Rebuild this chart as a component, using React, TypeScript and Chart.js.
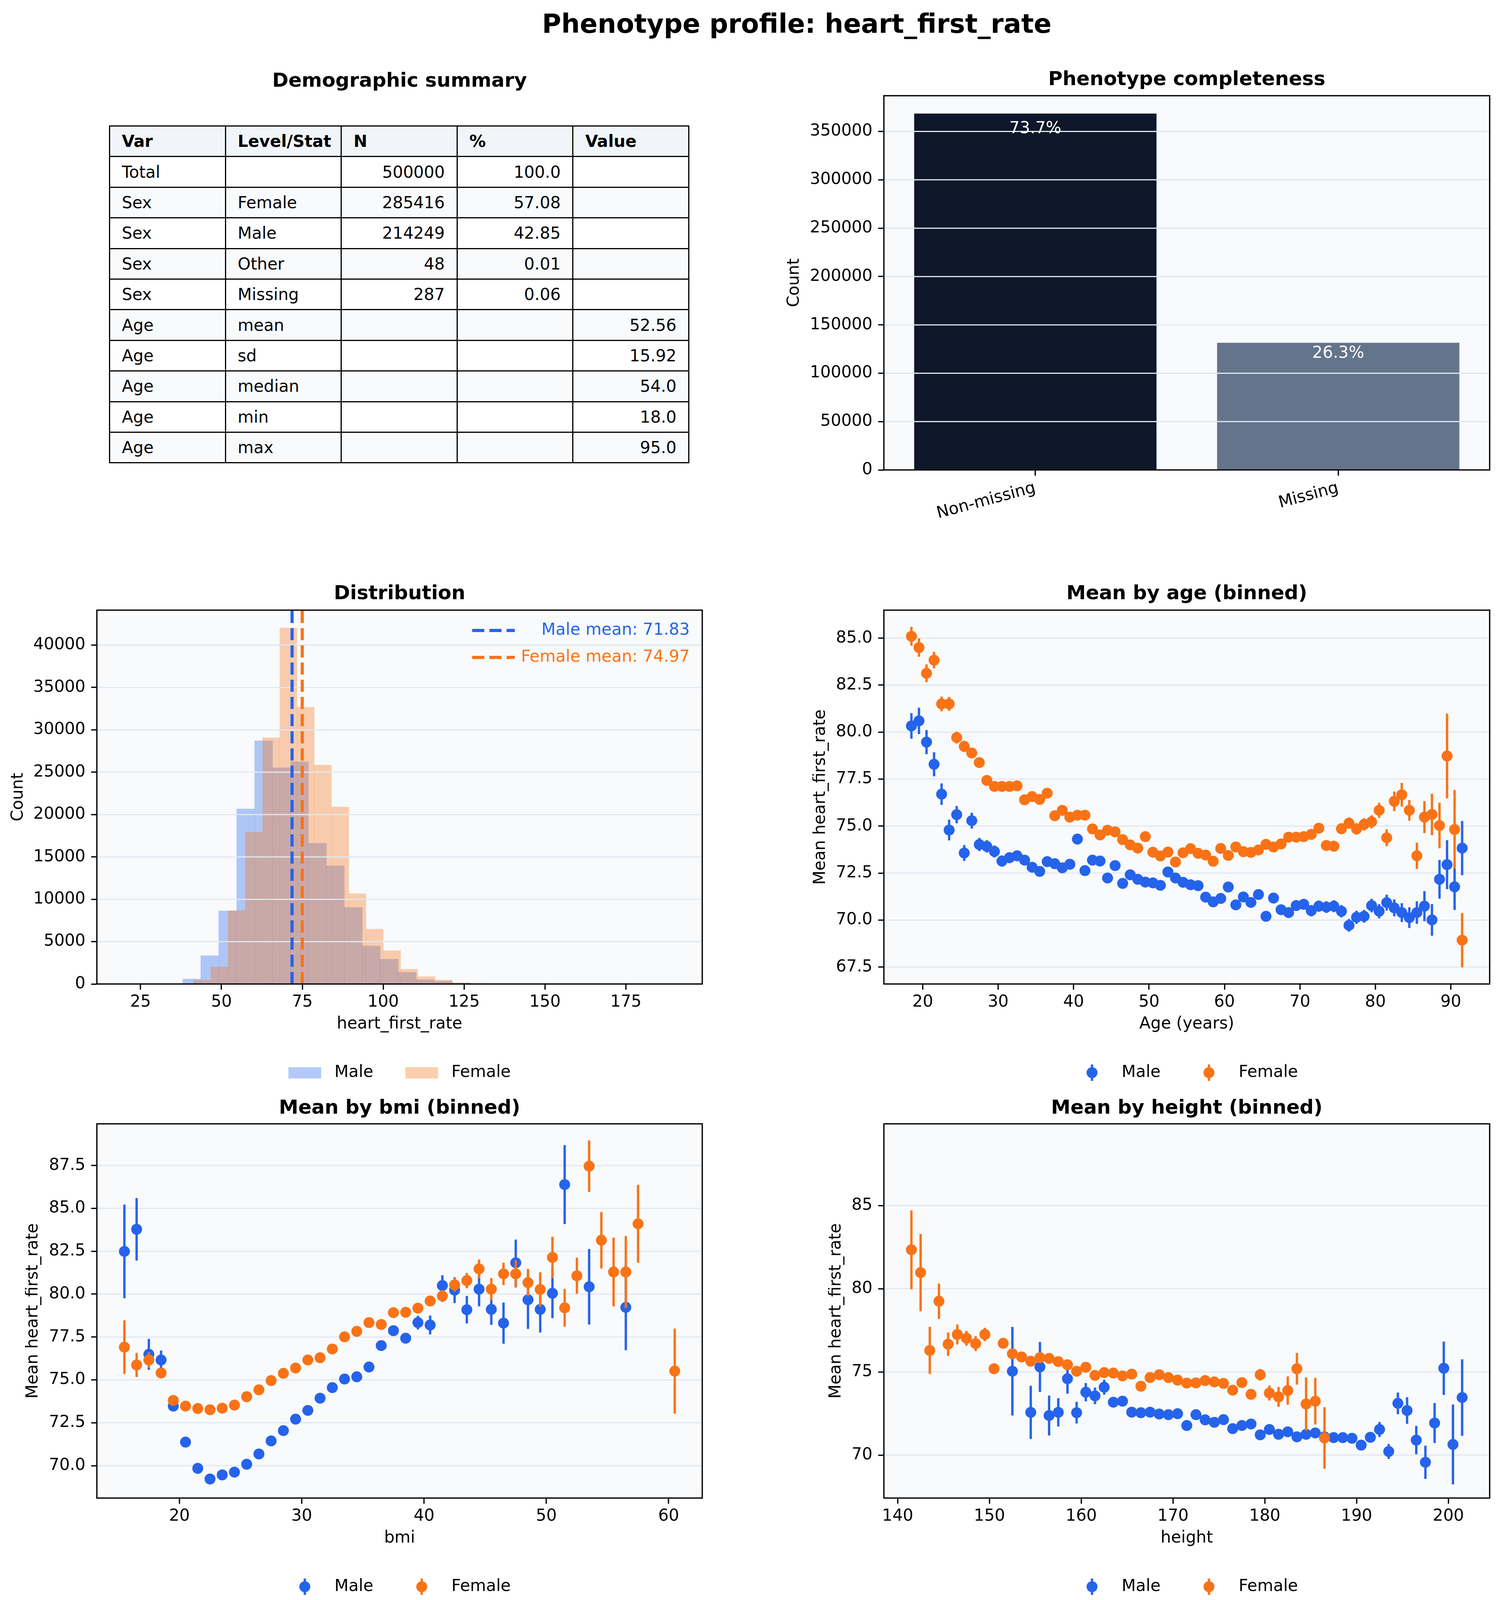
import { useEffect, useRef } from 'react'
import { Chart, registerables } from 'chart.js'

Chart.register(...registerables)
Chart.defaults.font.family = "'DejaVu Sans', sans-serif"
Chart.defaults.color = '#000'

// ---------- data ----------
const TABLE_HEADER = ['Var', 'Level/Stat', 'N', '%', 'Value']
const TABLE_ROWS = [
  ['Total', '', '500000', '100.0', ''],
  ['Sex', 'Female', '285416', '57.08', ''],
  ['Sex', 'Male', '214249', '42.85', ''],
  ['Sex', 'Other', '48', '0.01', ''],
  ['Sex', 'Missing', '287', '0.06', ''],
  ['Age', 'mean', '', '', '52.56'],
  ['Age', 'sd', '', '', '15.92'],
  ['Age', 'median', '', '', '54.0'],
  ['Age', 'min', '', '', '18.0'],
  ['Age', 'max', '', '', '95.0'],
]

const COMPLETENESS_LABELS = ['Non-missing', 'Missing']
const COMPLETENESS_COUNTS = [368500, 131500]
const COMPLETENESS_Y_TICKS = [0, 50000, 100000, 150000, 200000, 250000, 300000, 350000]

const MALE_BIN_CENTERS = [40.83, 46.38, 51.93, 57.48, 63.03, 68.58, 74.13, 79.68, 85.23, 90.78, 96.33, 101.88, 107.43, 112.98, 118.53, 124.08, 129.63]
const MALE_COUNTS = [600, 3340, 8630, 20680, 28710, 25530, 26240, 16620, 13960, 9030, 4490, 2940, 1390, 520, 320, 120, 40]
const FEMALE_BIN_CENTERS = [44.03, 49.36, 54.69, 60.03, 65.36, 70.69, 76.03, 81.36, 86.7, 92.03, 97.36, 102.7, 108.03, 113.37, 118.7, 124.04, 129.37]
const FEMALE_COUNTS = [440, 2030, 8670, 17930, 29070, 42030, 32680, 25850, 20910, 10660, 6480, 3940, 1750, 870, 480, 160, 50]
const MALE_MEAN = 71.83
const FEMALE_MEAN = 74.97
const HIST_X_TICKS = [25, 50, 75, 100, 125, 150, 175]
const HIST_Y_TICKS = [0, 5000, 10000, 15000, 20000, 25000, 30000, 35000, 40000]

const AGE_BINS = [18.5, 19.5, 20.5, 21.5, 22.5, 23.5, 24.5, 25.5, 26.5, 27.5, 28.5, 29.5, 30.5, 31.5, 32.5, 33.5, 34.5, 35.5, 36.5, 37.5,
  38.5, 39.5, 40.5, 41.5, 42.5, 43.5, 44.5, 45.5, 46.5, 47.5, 48.5, 49.5, 50.5, 51.5, 52.5, 53.5, 54.5, 55.5, 56.5, 57.5,
  58.5, 59.5, 60.5, 61.5, 62.5, 63.5, 64.5, 65.5, 66.5, 67.5, 68.5, 69.5, 70.5, 71.5, 72.5, 73.5, 74.5, 75.5, 76.5, 77.5,
  78.5, 79.5, 80.5, 81.5, 82.5, 83.5, 84.5, 85.5, 86.5, 87.5, 88.5, 89.5, 90.5, 91.5]
const AGE_MALE = [80.33, 80.6, 79.47, 78.29, 76.7, 74.79, 75.61, 73.57, 75.29, 74.02,
  73.92, 73.65, 73.14, 73.32, 73.42, 73.19, 72.81, 72.59, 73.11, 73.0,
  72.78, 72.97, 74.31, 72.63, 73.19, 73.14, 72.24, 72.9, 71.95, 72.41,
  72.17, 72.02, 71.98, 71.85, 72.56, 72.24, 72.01, 71.88, 71.83, 71.22,
  70.97, 71.15, 71.76, 70.81, 71.23, 70.94, 71.36, 70.2, 71.17, 70.55,
  70.4, 70.77, 70.84, 70.5, 70.74, 70.69, 70.74, 70.47, 69.72, 70.15,
  70.2, 70.77, 70.47, 70.93, 70.65, 70.4, 70.13, 70.4, 70.74, 70.01,
  72.17, 72.95, 71.77, 73.83]
const AGE_MALE_ERR = [0.68, 0.7, 0.64, 0.64, 0.57, 0.55, 0.46, 0.42, 0.42, 0.35,
  0.33, 0.32, 0.3, 0.29, 0.28, 0.27, 0.27, 0.26, 0.26, 0.26,
  0.25, 0.25, 0.25, 0.25, 0.25, 0.25, 0.25, 0.25, 0.25, 0.25,
  0.25, 0.25, 0.25, 0.25, 0.25, 0.25, 0.25, 0.25, 0.25, 0.25,
  0.25, 0.25, 0.25, 0.26, 0.26, 0.26, 0.26, 0.27, 0.27, 0.27,
  0.28, 0.28, 0.29, 0.3, 0.3, 0.31, 0.32, 0.33, 0.34, 0.35,
  0.34, 0.36, 0.38, 0.42, 0.45, 0.5, 0.55, 0.6, 0.8, 0.84,
  1.03, 1.3, 1.23, 1.44]
const AGE_FEMALE = [85.1, 84.5, 83.13, 83.83, 81.5, 81.5, 79.71, 79.24, 78.89, 78.38,
  77.43, 77.11, 77.11, 77.11, 77.14, 76.4, 76.57, 76.42, 76.75, 75.55,
  75.84, 75.48, 75.58, 75.58, 74.85, 74.53, 74.78, 74.69, 74.28, 74.0,
  73.83, 74.44, 73.61, 73.41, 73.62, 73.09, 73.58, 73.8, 73.55, 73.46,
  73.13, 73.81, 73.44, 73.89, 73.64, 73.6, 73.73, 74.03, 73.89, 74.05,
  74.41, 74.41, 74.44, 74.56, 74.89, 73.97, 73.93, 74.86, 75.16, 74.85,
  75.09, 75.23, 75.84, 74.38, 76.32, 76.67, 75.84, 73.42, 75.48, 75.62,
  75.03, 78.73, 74.82, 68.93]
const AGE_FEMALE_ERR = [0.5, 0.49, 0.47, 0.44, 0.39, 0.37, 0.32, 0.3, 0.28, 0.27,
  0.26, 0.25, 0.24, 0.24, 0.23, 0.23, 0.22, 0.22, 0.22, 0.22,
  0.21, 0.21, 0.21, 0.21, 0.21, 0.21, 0.21, 0.21, 0.21, 0.21,
  0.21, 0.21, 0.21, 0.21, 0.21, 0.21, 0.21, 0.21, 0.21, 0.21,
  0.21, 0.21, 0.21, 0.21, 0.21, 0.21, 0.22, 0.22, 0.22, 0.23,
  0.23, 0.24, 0.24, 0.25, 0.26, 0.27, 0.28, 0.29, 0.3, 0.31,
  0.33, 0.35, 0.4, 0.45, 0.52, 0.63, 0.55, 0.7, 0.85, 1.1,
  1.21, 2.25, 2.1, 1.44]
const AGE_X_TICKS = [20, 30, 40, 50, 60, 70, 80, 90]
const AGE_Y_TICKS = [67.5, 70, 72.5, 75, 77.5, 80, 82.5, 85]

const BMI_BINS = [15.5, 16.5, 17.5, 18.5, 19.5, 20.5, 21.5, 22.5, 23.5, 24.5, 25.5, 26.5, 27.5, 28.5, 29.5, 30.5,
  31.5, 32.5, 33.5, 34.5, 35.5, 36.5, 37.5, 38.5, 39.5, 40.5, 41.5, 42.5, 43.5, 44.5, 45.5, 46.5,
  47.5, 48.5, 49.5, 50.5, 51.5, 52.5, 53.5, 54.5, 55.5, 56.5, 57.5, 58.5, 59.5, 60.5]
const BMI_MALE = [82.49, 83.78, 76.49, 76.16, 73.47, 71.37, 69.84, 69.22, 69.46, 69.62, 70.08, 70.68, 71.44, 72.04, 72.71, 73.22,
  73.93, 74.55, 75.05, 75.18, 75.75, 77.0, 77.87, 77.43, 78.34, 78.2, 80.5, 80.23, 79.09, 80.29, 79.11, 78.31,
  81.83, 79.67, 79.11, 80.05, 86.39, null, 80.43, null, null, 79.23, null, null, null, null]
const BMI_MALE_ERR = [2.73, 1.82, 0.9, 0.55, 0.25, 0.2, 0.15, 0.12, 0.12, 0.12, 0.12, 0.12, 0.13, 0.14, 0.15, 0.16,
  0.18, 0.2, 0.22, 0.24, 0.26, 0.28, 0.3, 0.3, 0.4, 0.55, 0.6, 0.75, 0.8, 1.0, 0.9, 1.2,
  1.35, 1.7, 1.35, 1.45, 2.3, null, 2.2, null, null, 2.5, null, null, null, null]
const BMI_FEMALE = [76.91, 75.87, 76.16, 75.4, 73.8, 73.47, 73.33, 73.26, 73.35, 73.53, 74.02, 74.42, 74.96, 75.38, 75.69, 76.16,
  76.29, 76.8, 77.51, 77.83, 78.34, 78.23, 78.92, 78.94, 79.18, 79.6, 79.89, 80.54, 80.79, 81.47, 80.29, 81.18,
  81.18, 80.67, 80.27, 82.14, 79.2, 81.07, 87.46, 83.14, 81.29, 81.29, 84.1, null, null, 75.51]
const BMI_FEMALE_ERR = [1.56, 0.7, 0.45, 0.3, 0.2, 0.15, 0.12, 0.1, 0.1, 0.1, 0.1, 0.1, 0.1, 0.1, 0.12, 0.13,
  0.15, 0.16, 0.18, 0.2, 0.2, 0.22, 0.24, 0.25, 0.25, 0.3, 0.35, 0.4, 0.45, 0.55, 0.65, 0.65,
  0.8, 0.8, 1.0, 1.2, 1.1, 1.05, 1.5, 1.65, 2.0, 2.1, 2.27, null, null, 2.48]
const BMI_X_TICKS = [20, 30, 40, 50, 60]
const BMI_Y_TICKS = [70, 72.5, 75, 77.5, 80, 82.5, 85, 87.5]

const HEIGHT_BINS = [141.5, 142.5, 143.5, 144.5, 145.5, 146.5, 147.5, 148.5, 149.5, 150.5, 151.5, 152.5, 153.5, 154.5, 155.5, 156.5,
  157.5, 158.5, 159.5, 160.5, 161.5, 162.5, 163.5, 164.5, 165.5, 166.5, 167.5, 168.5, 169.5, 170.5, 171.5, 172.5,
  173.5, 174.5, 175.5, 176.5, 177.5, 178.5, 179.5, 180.5, 181.5, 182.5, 183.5, 184.5, 185.5, 186.5, 187.5, 188.5,
  189.5, 190.5, 191.5, 192.5, 193.5, 194.5, 195.5, 196.5, 197.5, 198.5, 199.5, 200.5, 201.5]
const HEIGHT_MALE = [null, null, null, null, null, null, null, null, null, null, null, 75.04, null, 72.57, 75.3, 72.38,
  72.57, 74.59, 72.55, 73.78, 73.56, 74.08, 73.18, 73.24, 72.58, 72.55, 72.58, 72.47, 72.43, 72.49, 71.78, 72.43,
  72.12, 71.97, 72.13, 71.59, 71.78, 71.87, 71.22, 71.54, 71.25, 71.4, 71.1, 71.25, 71.33, 71.1, 71.05, 71.05,
  71.01, 70.6, 71.07, 71.54, 70.22, 73.11, 72.68, 70.9, 69.57, 71.93, 75.22, 70.64, 73.46]
const HEIGHT_MALE_ERR = [null, null, null, null, null, null, null, null, null, null, null, 2.66, null, 1.6, 1.5, 1.2,
  0.85, 0.9, 0.65, 0.55, 0.5, 0.45, 0.3, 0.25, 0.2, 0.18, 0.16, 0.14, 0.13, 0.12, 0.12, 0.12,
  0.11, 0.11, 0.11, 0.11, 0.11, 0.11, 0.11, 0.11, 0.12, 0.12, 0.12, 0.13, 0.14, 0.15, 0.16, 0.18,
  0.2, 0.25, 0.3, 0.45, 0.45, 0.65, 0.8, 0.85, 1.0, 1.2, 1.6, 2.4, 2.3]
const HEIGHT_FEMALE = [82.34, 80.97, 76.29, 79.25, 76.67, 77.25, 77.02, 76.7, 77.25, 75.19, 76.72, 76.09, 75.9, 75.64, 75.86, 75.81,
  75.62, 75.43, 75.04, 75.28, 74.79, 74.96, 74.93, 74.76, 74.87, 74.14, 74.66, 74.83, 74.66, 74.51, 74.33, 74.34,
  74.48, 74.4, 74.31, 73.9, 74.36, 73.65, 74.83, 73.73, 73.5, 73.88, 75.19, 73.07, 73.24, 71.03, null, null,
  null, null, null, null, null, null, null, null, null, null, null, null, null]
const HEIGHT_FEMALE_ERR = [2.37, 2.32, 1.42, 1.06, 0.7, 0.6, 0.45, 0.45, 0.4, 0.3, 0.3, 0.25, 0.22, 0.2, 0.18, 0.16,
  0.15, 0.14, 0.13, 0.12, 0.12, 0.12, 0.12, 0.12, 0.12, 0.13, 0.13, 0.14, 0.14, 0.15, 0.16, 0.17,
  0.18, 0.2, 0.22, 0.24, 0.26, 0.3, 0.35, 0.45, 0.6, 0.85, 0.95, 1.6, 1.4, 1.85, null, null,
  null, null, null, null, null, null, null, null, null, null, null, null, null]
const HEIGHT_X_TICKS = [140, 150, 160, 170, 180, 190, 200]
const HEIGHT_Y_TICKS = [70, 75, 80, 85]

// ---------- look ----------
const MALE = '#2563eb'
const FEMALE = '#f97316'
const MALE_FILL = 'rgba(37,99,235,0.35)'
const FEMALE_FILL = 'rgba(249,115,22,0.35)'
const PANEL_BG = '#f8fafc'
const GRID = '#e2e8f0'
const FONT = "'DejaVu Sans', sans-serif"
const LBL = 42            // 10pt at 300 dpi
const TTL = 50            // 12pt bold
const TTL_LH = 60
const TTL_PAD = 10
const TICK_LEN = 14.6
const LINE_W = 3.3
const MARKER_R = 14
const LEGEND_PAD = 82
const HANDLE_W = 97       // handle slot so the text sits where matplotlib puts it
const RIGHT_PAD = 40
const BOTTOM_PAD = 10

interface Geo { L: number; T: number; R: number; B: number; titleY: number; yTitleX: number; xh: number; legend: boolean }

const GEO_BAR: Geo = { L: 2263, T: 245, R: 3814, B: 1203, titleY: 205, yTitleX: 2034, xh: 200, legend: false }
const GEO_HIST: Geo = { L: 248, T: 1562, R: 1798, B: 2519, titleY: 1521, yTitleX: 47, xh: 124, legend: true }
const GEO_AGE: Geo = { L: 2263, T: 1562, R: 3814, B: 2519, titleY: 1521, yTitleX: 2101, xh: 124, legend: true }
const GEO_BMI: Geo = { L: 248, T: 2877, R: 1798, B: 3835, titleY: 2838, yTitleX: 85, xh: 124, legend: true }
const GEO_HEIGHT: Geo = { L: 2263, T: 2877, R: 3814, B: 3835, titleY: 2838, yTitleX: 2141, xh: 124, legend: true }

function frameOf(g: Geo) {
  const left = g.yTitleX - LBL / 2
  const top = g.titleY - TTL_LH / 2 - TTL_PAD
  const legendH = g.legend ? LBL + LEGEND_PAD + 10 : 0
  return {
    left, top,
    width: g.R + RIGHT_PAD - left,
    height: g.B - top + g.xh + legendH + BOTTOM_PAD,
    yWidth: g.L - left,
    titlePadBottom: g.T - (g.titleY + TTL_LH / 2),
  }
}

// ---------- drawing helpers ----------
function drawGrid(chart: any) {
  const { ctx, chartArea: a, scales: { y } } = chart
  ctx.save()
  ctx.strokeStyle = GRID
  ctx.lineWidth = 3
  y.ticks.forEach((t: any) => {
    const py = y.getPixelForValue(t.value)
    ctx.beginPath(); ctx.moveTo(a.left, py); ctx.lineTo(a.right, py); ctx.stroke()
  })
  ctx.restore()
}

function drawErrors(chart: any, ds: any) {
  const { ctx, scales: { x, y } } = chart
  ctx.save()
  ctx.strokeStyle = ds.borderColor
  ctx.lineWidth = 6
  ds.data.forEach((p: any, i: number) => {
    const e = ds.errors[i]
    if (!e) return
    const px = x.getPixelForValue(p.x)
    ctx.beginPath()
    ctx.moveTo(px, y.getPixelForValue(p.y - e))
    ctx.lineTo(px, y.getPixelForValue(p.y + e))
    ctx.stroke()
  })
  ctx.restore()
}

function drawBarLabels(chart: any) {
  const { ctx, scales: { y } } = chart
  const ds = chart.data.datasets[0]
  const meta = chart.getDatasetMeta(0)
  const total = ds.data.reduce((s: number, v: number) => s + v, 0)
  ctx.save()
  ctx.fillStyle = '#fff'
  ctx.font = `${LBL}px ${FONT}`
  ctx.textAlign = 'center'
  ctx.textBaseline = 'middle'
  meta.data.forEach((bar: any, i: number) => {
    const v = ds.data[i]
    ctx.fillText(`${((v / total) * 100).toFixed(1)}%`, bar.x, y.getPixelForValue(v * 0.98) + 21)
  })
  ctx.restore()
}

function drawMeans(chart: any, means: any[]) {
  const { ctx, chartArea: a, scales: { x } } = chart
  ctx.save()
  ctx.lineWidth = 8
  ctx.setLineDash([31, 13])
  means.forEach((m) => {
    const px = x.getPixelForValue(m.value)
    ctx.strokeStyle = m.color
    ctx.beginPath(); ctx.moveTo(px, a.bottom); ctx.lineTo(px, a.top); ctx.stroke()
  })
  ctx.font = `${LBL}px ${FONT}`
  ctx.textAlign = 'right'
  ctx.textBaseline = 'middle'
  means.forEach((m, i) => {
    const py = a.top + 52 + i * 69
    ctx.strokeStyle = m.color
    ctx.beginPath(); ctx.moveTo(a.right - 589, py); ctx.lineTo(a.right - 480, py); ctx.stroke()
    ctx.fillStyle = m.color
    ctx.fillText(`${m.label} mean: ${m.value.toFixed(2)}`, a.right - 32, py)
  })
  ctx.restore()
}

const decor = {
  id: 'decor',
  beforeDraw(chart: any) {
    const { ctx, chartArea: a } = chart
    ctx.save()
    ctx.fillStyle = PANEL_BG
    ctx.fillRect(a.left, a.top, a.right - a.left, a.bottom - a.top)
    ctx.restore()
  },
  beforeDatasetsDraw(chart: any, _args: any, opts: any) {
    if (!opts.gridOnTop) drawGrid(chart)
  },
  beforeDatasetDraw(chart: any, args: any) {
    const ds: any = chart.data.datasets[args.index]
    if (ds.errors) drawErrors(chart, ds)
  },
  afterDatasetsDraw(chart: any, _args: any, opts: any) {
    if (opts.gridOnTop) drawGrid(chart)
    if (opts.barLabels) drawBarLabels(chart)
    if (opts.means) drawMeans(chart, opts.means)
  },
  afterDraw(chart: any) {
    const { ctx, chartArea: a } = chart
    ctx.save()
    ctx.strokeStyle = '#000'
    ctx.lineWidth = LINE_W
    ctx.strokeRect(a.left, a.top, a.right - a.left, a.bottom - a.top)
    ctx.restore()
  },
}

// ---------- legend handles (drawn left of the slot centre, like matplotlib) ----------
function patchHandle(fill: string) {
  const c = document.createElement('canvas')
  c.width = 100; c.height = 29
  const g = c.getContext('2d')!
  g.fillStyle = fill
  g.fillRect(1.5, 0, 84, 29)
  return c
}

function errHandle(color: string) {
  const c = document.createElement('canvas')
  c.width = 100; c.height = 44
  const g = c.getContext('2d')!
  g.strokeStyle = color; g.lineWidth = 6
  g.beginPath(); g.moveTo(43.5, 1); g.lineTo(43.5, 43); g.stroke()
  g.fillStyle = color
  g.beginPath(); g.arc(43.5, 22, MARKER_R, 0, Math.PI * 2); g.fill()
  return c
}

function legendOpt(handles: HTMLCanvasElement[]) {
  return {
    display: true, position: 'bottom', fullSize: false,
    labels: {
      font: { size: LBL }, color: '#000', padding: LEGEND_PAD, usePointStyle: true, pointStyleWidth: HANDLE_W,
      sort: (a: any, b: any) => a.datasetIndex - b.datasetIndex,
      generateLabels: (chart: any) =>
        Chart.defaults.plugins.legend.labels.generateLabels(chart).map((l: any) => ({ ...l, pointStyle: handles[l.datasetIndex] })),
    },
  }
}

// ---------- option builders ----------
const fixedTicks = (values: number[]) => (s: any) => { s.ticks = values.map((value) => ({ value })) }

function yAxis(min: number, max: number, ticks: number[], fmt: (v: number) => string, title: string, width: number) {
  return {
    min, max,
    afterBuildTicks: fixedTicks(ticks),
    ticks: { autoSkip: false, font: { size: LBL }, color: '#000', padding: 14.6, callback: (v: any) => fmt(Number(v)) },
    grid: { display: true, drawOnChartArea: false, drawTicks: true, tickLength: TICK_LEN, tickWidth: LINE_W, tickColor: '#000' },
    border: { display: false },
    title: { display: true, text: title, color: '#000', font: { size: LBL, lineHeight: 1 }, padding: 0 },
    afterFit: (s: any) => { s.width = width },
  }
}

function xLinear(min: number, max: number, ticks: number[], title: string, height: number) {
  return {
    type: 'linear', position: 'bottom', min, max, offset: false,
    afterBuildTicks: fixedTicks(ticks),
    ticks: { autoSkip: false, maxRotation: 0, font: { size: LBL }, color: '#000', padding: 7, callback: (v: any) => String(v) },
    grid: { display: true, drawOnChartArea: false, drawTicks: true, offset: false, tickLength: TICK_LEN, tickWidth: LINE_W, tickColor: '#000' },
    border: { display: false },
    title: { display: true, text: title, color: '#000', font: { size: LBL, lineHeight: 1 }, padding: 0 },
    afterFit: (s: any) => { s.height = height },
  }
}

function titleOpt(text: string, f: any) {
  return { display: true, text, color: '#000', fullSize: false, font: { size: TTL, weight: 'bold', lineHeight: 1.2 }, padding: { top: TTL_PAD, bottom: f.titlePadBottom } }
}

function baseOptions(f: any, title: string, legend: any, decorOpts: any, scales: any) {
  return {
    responsive: false,
    animation: false,
    layout: { padding: { left: 0, top: 0, right: RIGHT_PAD, bottom: BOTTOM_PAD } },
    plugins: { title: titleOpt(title, f), legend, tooltip: { enabled: false }, decor: decorOpts },
    scales,
  }
}

function series(xs: number[], ys: (number | null)[], es: (number | null)[]) {
  const data: { x: number; y: number }[] = []
  const errors: number[] = []
  xs.forEach((x, i) => {
    const y = ys[i]
    if (y == null) return
    data.push({ x, y })
    errors.push(es[i] ?? 0)
  })
  return { data, errors }
}

function scatterConfig(f: any, g: Geo, title: string, xs: number[], male: any, female: any, ax: any) {
  const m = series(xs, male[0], male[1])
  const w = series(xs, female[0], female[1])
  const point = { pointRadius: MARKER_R, pointHoverRadius: MARKER_R, pointBorderWidth: 0 }
  return {
    type: 'scatter',
    plugins: [decor],
    data: {
      datasets: [
        { label: 'Male', data: m.data, errors: m.errors, backgroundColor: MALE, borderColor: MALE, ...point, order: 1 },
        { label: 'Female', data: w.data, errors: w.errors, backgroundColor: FEMALE, borderColor: FEMALE, ...point, order: 0 },
      ],
    },
    options: baseOptions(f, title, legendOpt([errHandle(MALE), errHandle(FEMALE)]), { gridOnTop: false }, {
      x: xLinear(ax.xMin, ax.xMax, ax.xTicks, ax.xTitle, g.xh),
      y: yAxis(ax.yMin, ax.yMax, ax.yTicks, ax.yFmt, 'Mean heart_first_rate', f.yWidth),
    }),
  }
}

// ---------- components ----------
function ChartPanel({ geo, build }: { geo: Geo; build: (f: any) => any }) {
  const canvasRef = useRef<HTMLCanvasElement>(null)
  const f = frameOf(geo)
  useEffect(() => {
    if (!canvasRef.current) return
    const chart = new Chart(canvasRef.current, build(f))
    return () => { chart.destroy() }
  }, [])
  return (
    <canvas
      ref={canvasRef}
      width={f.width}
      height={f.height}
      style={{ position: 'absolute', left: f.left, top: f.top, width: f.width, height: f.height }}
    />
  )
}

const TABLE_BOX = { left: 279, top: 321, width: 1486, rowH: 78.4 }

function DemoTable() {
  const cell = (align: 'left' | 'right'): any => ({
    border: '3px solid #000', padding: '0 30px', textAlign: align, whiteSpace: 'nowrap', overflow: 'hidden', verticalAlign: 'middle',
  })
  return (
    <table style={{
      position: 'absolute', left: TABLE_BOX.left, top: TABLE_BOX.top, width: TABLE_BOX.width,
      borderCollapse: 'collapse', tableLayout: 'fixed', fontSize: LBL, fontFamily: FONT, color: '#000',
    }}>
      <tbody>
        <tr style={{ height: TABLE_BOX.rowH, background: '#f1f5f9', fontWeight: 'bold' }}>
          {TABLE_HEADER.map((h) => <td key={h} style={cell('left')}>{h}</td>)}
        </tr>
        {TABLE_ROWS.map((r, i) => (
          <tr key={i} style={{ height: TABLE_BOX.rowH, background: i % 2 ? '#f8fafc' : '#ffffff' }}>
            {r.map((v, j) => <td key={j} style={cell(j >= 2 ? 'right' : 'left')}>{v}</td>)}
          </tr>
        ))}
      </tbody>
    </table>
  )
}

const fmt1 = (v: number) => v.toFixed(1)
const fmt0 = (v: number) => String(Math.round(v))

export default function App() {
  useEffect(() => { document.body.style.margin = '0' }, [])

  return (
    <div style={{ position: 'relative', width: 3843, height: 4295, background: '#fff', fontFamily: FONT, overflow: 'hidden' }}>
      <div style={{ position: 'absolute', left: 1040, width: 2000, top: 21, height: 80, lineHeight: '80px', textAlign: 'center', fontSize: 67, fontWeight: 'bold' }}>
        Phenotype profile: heart_first_rate
      </div>
      <div style={{ position: 'absolute', left: 423, width: 1200, top: 165, height: 80, lineHeight: '80px', textAlign: 'center', fontSize: TTL, fontWeight: 'bold' }}>
        Demographic summary
      </div>
      <DemoTable />

      <ChartPanel geo={GEO_BAR} build={(f) => ({
        type: 'bar',
        plugins: [decor],
        data: {
          labels: COMPLETENESS_LABELS,
          datasets: [{ data: COMPLETENESS_COUNTS, backgroundColor: ['#0f172a', '#64748b'], borderWidth: 0, barPercentage: 0.8, categoryPercentage: 1 }],
        },
        options: baseOptions(f, 'Phenotype completeness', { display: false }, { gridOnTop: true, barLabels: true }, {
          x: {
            type: 'category', offset: true,
            ticks: { font: { size: LBL }, color: '#000', padding: 7, minRotation: 15, maxRotation: 15, autoSkip: false },
            grid: { display: true, drawOnChartArea: false, drawTicks: true, offset: false, tickLength: TICK_LEN, tickWidth: LINE_W, tickColor: '#000' },
            border: { display: false },
            afterFit: (s: any) => { s.height = GEO_BAR.xh },
          },
          y: yAxis(0, 387000, COMPLETENESS_Y_TICKS, fmt0, 'Count', f.yWidth),
        }),
      })} />

      <ChartPanel geo={GEO_HIST} build={(f) => ({
        type: 'bar',
        plugins: [decor],
        data: {
          datasets: [
            {
              label: 'Male', data: MALE_BIN_CENTERS.map((x, i) => ({ x, y: MALE_COUNTS[i] })), xAxisID: 'x',
              backgroundColor: MALE_FILL, borderWidth: 0, barPercentage: 1, categoryPercentage: 1, grouped: false, order: 1,
            },
            {
              label: 'Female', data: FEMALE_BIN_CENTERS.map((x, i) => ({ x, y: FEMALE_COUNTS[i] })), xAxisID: 'x2',
              backgroundColor: FEMALE_FILL, borderWidth: 0, barPercentage: 1, categoryPercentage: 1, grouped: false, order: 0,
            },
          ],
        },
        options: baseOptions(f, 'Distribution', legendOpt([patchHandle(MALE_FILL), patchHandle(FEMALE_FILL)]), {
          gridOnTop: true,
          means: [{ label: 'Male', value: MALE_MEAN, color: MALE }, { label: 'Female', value: FEMALE_MEAN, color: FEMALE }],
        }, {
          x: xLinear(11.5, 198.6, HIST_X_TICKS, 'heart_first_rate', GEO_HIST.xh),
          x2: { type: 'linear', axis: 'x', position: 'bottom', display: false, min: 11.5, max: 198.6, offset: false, afterBuildTicks: fixedTicks(HIST_X_TICKS) },
          y: yAxis(0, 44130, HIST_Y_TICKS, fmt0, 'Count', f.yWidth),
        }),
      })} />

      <ChartPanel geo={GEO_AGE} build={(f) => scatterConfig(f, GEO_AGE, 'Mean by age (binned)', AGE_BINS,
        [AGE_MALE, AGE_MALE_ERR], [AGE_FEMALE, AGE_FEMALE_ERR],
        { xMin: 14.85, xMax: 95.15, xTicks: AGE_X_TICKS, xTitle: 'Age (years)', yMin: 66.6, yMax: 86.49, yTicks: AGE_Y_TICKS, yFmt: fmt1 })} />

      <ChartPanel geo={GEO_BMI} build={(f) => scatterConfig(f, GEO_BMI, 'Mean by bmi (binned)', BMI_BINS,
        [BMI_MALE, BMI_MALE_ERR], [BMI_FEMALE, BMI_FEMALE_ERR],
        { xMin: 13.25, xMax: 62.75, xTicks: BMI_X_TICKS, xTitle: 'bmi', yMin: 68.11, yMax: 89.93, yTicks: BMI_Y_TICKS, yFmt: fmt1 })} />

      <ChartPanel geo={GEO_HEIGHT} build={(f) => scatterConfig(f, GEO_HEIGHT, 'Mean by height (binned)', HEIGHT_BINS,
        [HEIGHT_MALE, HEIGHT_MALE_ERR], [HEIGHT_FEMALE, HEIGHT_FEMALE_ERR],
        { xMin: 138.5, xMax: 204.5, xTicks: HEIGHT_X_TICKS, xTitle: 'height', yMin: 67.42, yMax: 89.91, yTicks: HEIGHT_Y_TICKS, yFmt: fmt0 })} />
    </div>
  )
}
